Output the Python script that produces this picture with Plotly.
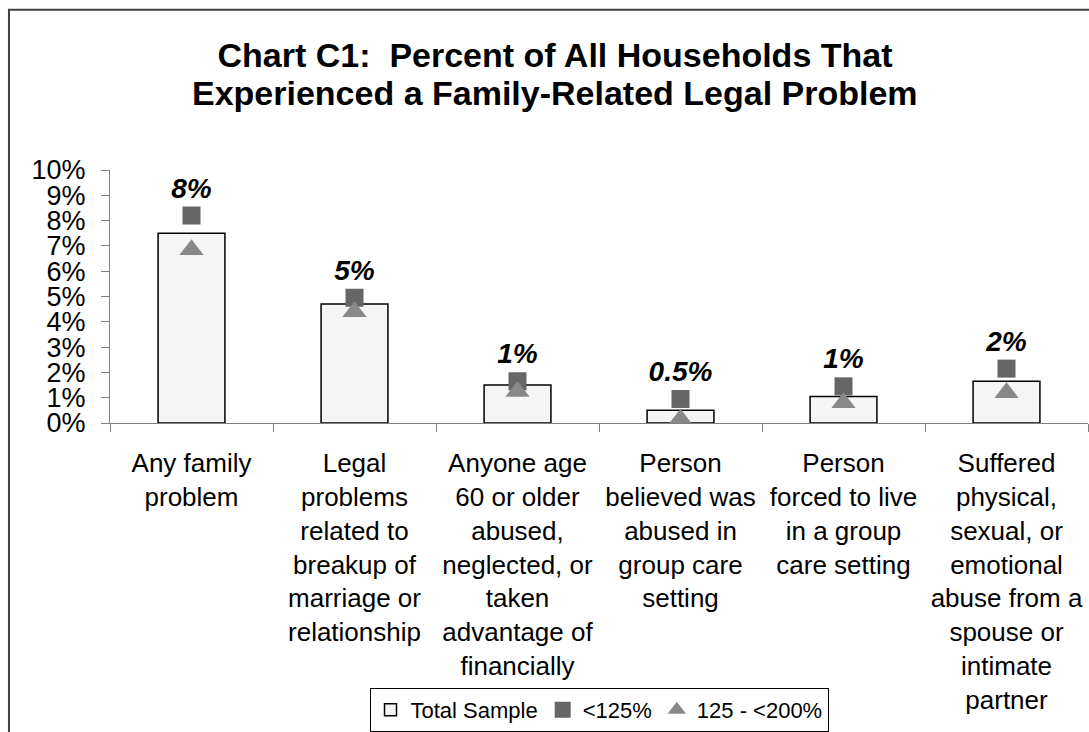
import plotly.graph_objects as go

categories = [
    "Any family<br>problem",
    "Legal<br>problems<br>related to<br>breakup of<br>marriage or<br>relationship",
    "Anyone age<br>60 or older<br>abused,<br>neglected, or<br>taken<br>advantage of<br>financially",
    "Person<br>believed was<br>abused in<br>group care<br>setting",
    "Person<br>forced to live<br>in a group<br>care setting",
    "Suffered<br>physical,<br>sexual, or<br>emotional<br>abuse from a<br>spouse or<br>intimate<br>partner",
]
total_sample = [7.5, 4.7, 1.5, 0.5, 1.05, 1.65]
below_125 = [8.2, 4.95, 1.65, 0.95, 1.45, 2.15]
between_125_200 = [6.85, 4.4, 1.25, 0.15, 0.8, 1.2]
label_text = ["8%", "5%", "1%", "0.5%", "1%", "2%"]
y_tick_vals = list(range(0, 11))
y_tick_text = [f"{v}%" for v in y_tick_vals]
title_lines = ["Chart C1:  Percent of All Households That",
               "Experienced a Family-Related Legal Problem"]

FONT = "Liberation Sans, Arial, sans-serif"

fig = go.Figure()
fig.add_trace(go.Bar(
    x=categories, y=total_sample, name="Total Sample",
    width=0.41,
    marker=dict(color="#f5f5f5", line=dict(color="#000000", width=1.5)),
))
fig.add_trace(go.Scatter(
    x=categories, y=below_125, name="<125%", mode="markers",
    marker=dict(symbol="square", size=18, color="#666666"),
))
fig.add_trace(go.Scatter(
    x=categories, y=between_125_200, name="125 - <200%", mode="markers",
    marker=dict(symbol="triangle-up", size=21, color="#888888"),
))
fig.add_trace(go.Scatter(
    x=categories, y=below_125, mode="markers+text", text=label_text,
    textposition="top center", showlegend=False, hoverinfo="skip",
    marker=dict(size=16, color="rgba(0,0,0,0)"),
    textfont=dict(family=FONT, size=28, color="#000000", weight="bold", style="italic"),
))

fig.update_layout(
    width=1089, height=732,
    margin=dict(l=110, r=1, t=170, b=308),
    paper_bgcolor="white", plot_bgcolor="white",
    font=dict(family=FONT, color="#000000"),
    title=dict(
        text="<b>" + title_lines[0] + "</b>",
        font=dict(family=FONT, size=34, color="#000000"),
        x=555 / 1089, xref="container", xanchor="center",
        y=1 - 55 / 732, yref="container", yanchor="middle",
    ),
    annotations=[dict(
        text="<b>" + title_lines[1] + "</b>",
        font=dict(family=FONT, size=34, color="#000000"),
        xref="paper", yref="paper",
        x=(555 - 110) / 978, y=(424 - 93) / 254,
        xanchor="center", yanchor="middle", showarrow=False,
    )],
    showlegend=True,
    legend=dict(
        orientation="h", x=0.5, xanchor="center", y=-1.045, yanchor="top",
        font=dict(family=FONT, size=22, color="#000000"),
        bgcolor="white", bordercolor="#000000", borderwidth=1,
        itemwidth=30, tracegroupgap=0,
    ),
    shapes=[dict(
        type="rect", xref="paper", yref="paper",
        x0=-0.1033, x1=1.2, y0=-2.0, y1=(424 - 9) / 254,
        line=dict(color="#404040", width=2), fillcolor="rgba(0,0,0,0)", layer="below",
    )],
)
fig.update_yaxes(
    range=[0, 10], tickvals=y_tick_vals, ticktext=y_tick_text,
    showline=True, linecolor="#808080", linewidth=1,
    ticks="outside", ticklen=8, tickcolor="#808080",
    showgrid=False, zeroline=False,
    tickfont=dict(family=FONT, size=27, color="#000000"),
    ticklabelstandoff=10,
)
fig.update_xaxes(
    range=[-0.5, 5.5], tickson="boundaries",
    showline=True, linecolor="#808080", linewidth=1,
    ticks="outside", ticklen=8, tickcolor="#808080",
    showgrid=False, tickangle=0,
    tickfont=dict(family=FONT, size=26, color="#000000"),
    ticklabelstandoff=17,
)

fig.write_html("out.html", config={"displayModeBar": False},
               post_script="document.body.style.margin='0';")
